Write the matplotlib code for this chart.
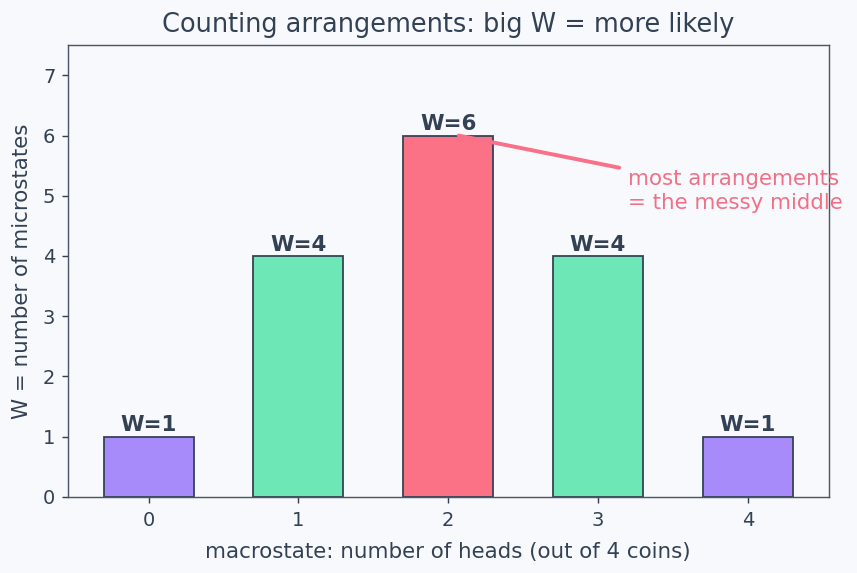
import matplotlib.pyplot as plt

heads = [0, 1, 2, 3, 4]
W = [1, 4, 6, 4, 1]
colors = ['#a78bfa', '#6ee7b7', '#fb7185', '#6ee7b7', '#a78bfa']

ink = '#334155'
bg = '#f8f9fc'

# 857x573 px at 128 dpi
fig = plt.figure(figsize=(857 / 128, 573 / 128), dpi=128, facecolor=bg)
ax = fig.add_axes([0.079, 0.133, 0.888, 0.788], facecolor=bg)

ax.bar(heads, W, width=0.6, color=colors, edgecolor=ink, linewidth=1.0)
for x, w in zip(heads, W):
    ax.text(x, w + 0.02, f'W={w}', ha='center', va='bottom',
            fontsize=12, fontweight='bold', color=ink)

ax.annotate('most arrangements\n= the messy middle', xy=(2.07, 6.0), xytext=(3.2, 5.08),
            ha='left', va='center', fontsize=12, color='#f07088',
            arrowprops=dict(arrowstyle='-', color='#f87189', lw=2.2,
                            shrinkA=3, shrinkB=0))

ax.set_xlim(-0.54, 4.54)
ax.set_ylim(0, 7.5)
ax.set_xticks(heads)
ax.set_title('Counting arrangements: big W = more likely', fontsize=14.4, color=ink, pad=7.5)
ax.set_xlabel('macrostate: number of heads (out of 4 coins)', fontsize=12, color=ink, labelpad=6.5)
ax.set_ylabel('W = number of microstates', fontsize=12, color=ink, labelpad=6)
ax.tick_params(colors=ink, labelsize=11)
ax.tick_params(axis='x', pad=4.6)
for s in ax.spines.values():
    s.set_color('#4b5563')

fig.savefig('out.png', dpi=128, facecolor=bg)
